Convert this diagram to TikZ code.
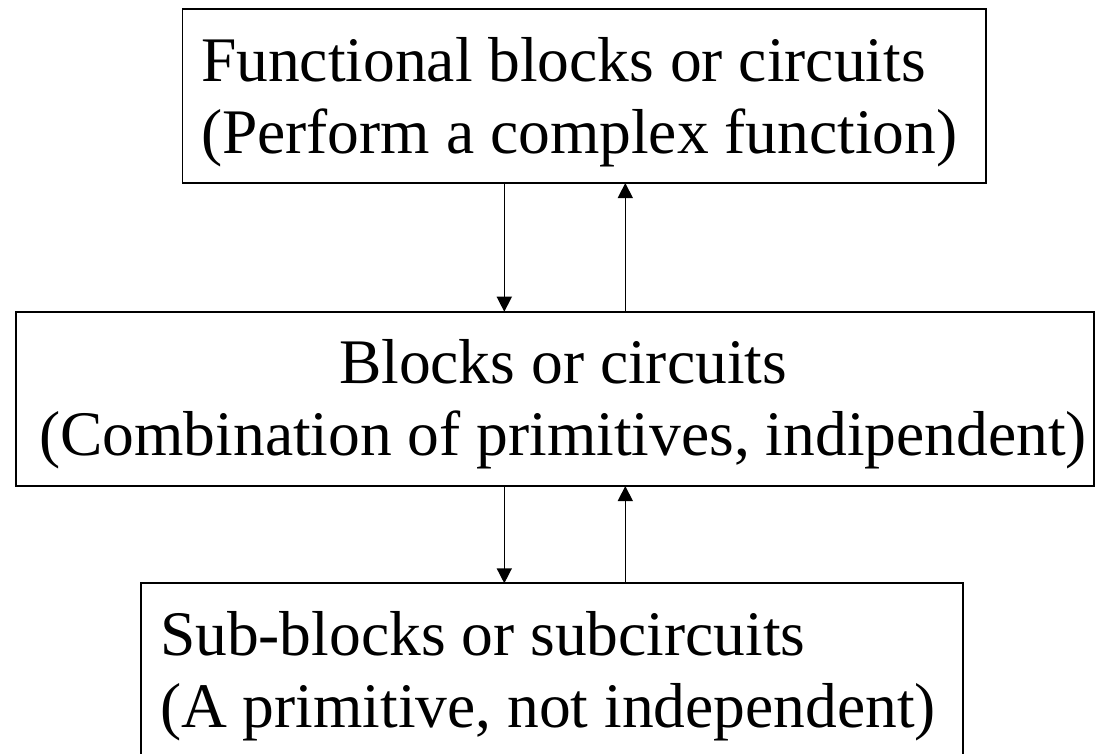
\documentclass[tikz,border=0pt]{standalone}
\usepackage{fontspec}
\setmainfont{Liberation Serif}
\usetikzlibrary{arrows.meta}

\tikzset{
  box/.style={draw, line width=1.8pt, rectangle, inner sep=0pt, outer sep=0pt},
  txt/.style={inner sep=0pt, outer sep=0pt, font=\fontsize{63.5}{72}\selectfont},
  arr/.style={line width=1.5pt, -{Triangle[width=15pt,length=15pt]}}
}

\begin{document}
\begin{tikzpicture}[x=1pt, y=-1pt]
  \useasboundingbox (0,0) rectangle (1096,754);

  % the three levels of the hierarchy
  \node[box, minimum width=803.2pt, minimum height=173.7pt] (top) at (584.1,96.2) {};
  \node[box, minimum width=1078.3pt, minimum height=174.3pt] (mid) at (554.9,398.9) {};
  \node[box, minimum width=822.3pt, minimum height=174.2pt] (bot) at (552.2,670.4) {};

  % labels
  \node[txt, anchor=base west] (topA) at (201,81.7) {Functional blocks or circuits};
  \node[txt, anchor=base west] (topB) at (201,153.7) {(Perform a complex function)};

  \node[txt, anchor=base] (midA) at (563,383.3) {Blocks or circuits};
  \node[txt, anchor=base] (midB) at (563,455.3) {(Combination of primitives, indipendent)};

  \node[txt, anchor=base west] (botA) at (160,655) {Sub-blocks or subcircuits};
  \node[txt, anchor=base west] (botB) at (160,727) {(A primitive, not independent)};

  % vertical positions of the down and up connectors
  \coordinate (dn) at (504.3,0);
  \coordinate (up) at (625.3,0);

  \draw[arr] (dn |- top.south) -- (dn |- mid.north);
  \draw[arr] (up |- mid.north) -- (up |- top.south);
  \draw[arr] (dn |- mid.south) -- (dn |- bot.north);
  \draw[arr] (up |- bot.north) -- (up |- mid.south);
\end{tikzpicture}
\end{document}
